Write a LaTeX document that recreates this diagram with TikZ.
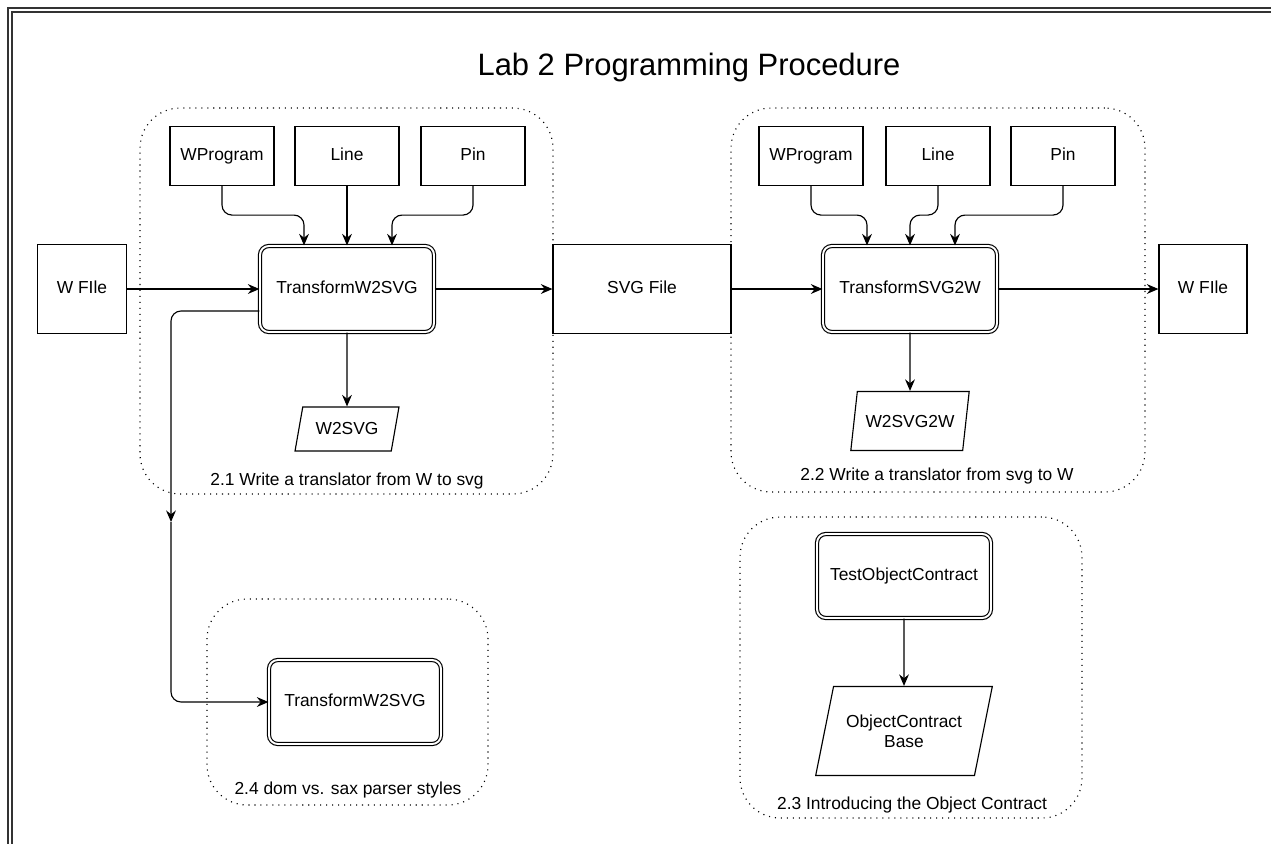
\documentclass[tikz,border=0pt]{standalone}
\usepackage{fontspec}
\setmainfont{Liberation Sans}
\usetikzlibrary{arrows.meta,shapes.geometric}

\begin{document}
\begin{tikzpicture}[x=0.02cm,y=-0.02cm,>={Stealth[length=6.6pt,width=5.6pt,inset=2.2pt]},
  line width=0.65pt,font=\fontsize{9.9}{11.5}\selectfont,
  box node/.style={rectangle,draw,minimum width=2.08cm,minimum height=1.18cm,inner sep=1pt,
    text height=7.2pt,text depth=2pt},
  file node/.style={rectangle,draw,minimum height=1.78cm,inner sep=1pt,
    text height=7.2pt,text depth=2pt},
  proc node/.style={rectangle,rounded corners=5pt,draw,double,double distance=1.1pt,
    minimum width=3.48cm,minimum height=1.72cm,inner sep=1pt,text height=7.2pt,text depth=2pt},
  data node/.style={trapezium,trapezium left angle=66,trapezium right angle=114,
    trapezium stretches=true,draw,inner sep=0pt,align=center},
  group node/.style={rectangle,rounded corners=0.8cm,draw,dash pattern=on 0.6pt off 2.8pt},
  arr/.style={->,rounded corners=0.2cm}]

  \useasboundingbox (0,0) rectangle (1271,843);
  % page frame
  \draw[double,double distance=1.3pt,line width=0.9pt,draw=black!80] (10,850) -- (10,10) -- (1280,10);

  \node[font=\fontsize{17.6}{20}\selectfont,anchor=base] (title) at (689,75) {Lab 2 Programming Procedure};

  % groups
  \node[group node,minimum width=8.26cm,minimum height=7.72cm] (g21) at (346.5,301) {};
  \node[group node,minimum width=8.28cm,minimum height=7.68cm] (g22) at (938,300) {};
  \node[group node,minimum width=6.84cm,minimum height=6.02cm] (g23) at (911,667.5) {};
  \node[group node,minimum width=5.62cm,minimum height=4.12cm] (g24) at (347.5,702) {};
  \node (l21) at (347,481) {2.1 Write a translator from W to svg};
  \node (l22) at (937,476) {2.2 Write a translator from svg to W};
  \node (l23) at (912,805) {2.3 Introducing the Object Contract};
  \node (l24) at (348,790) {2.4 dom vs. sax parser styles};

  % 2.1
  \node[box node] (wprog1) at (222,156) {WProgram};
  \node[box node] (line1) at (347,156) {Line};
  \node[box node] (pin1) at (473,156) {Pin};
  \node[proc node] (tw) at (347,289) {TransformW2SVG};
  \node[data node,minimum width=2.08cm,minimum height=0.88cm] (w2svg) at (347,429) {W2SVG};
  \node[file node,minimum width=1.78cm] (wfile1) at (82,289) {W FIle};
  \node[file node,minimum width=3.56cm] (svgfile) at (642,289) {SVG File};

  % 2.2
  \node[box node] (wprog2) at (811,156) {WProgram};
  \node[box node] (line2) at (938,156) {Line};
  \node[box node] (pin2) at (1063,156) {Pin};
  \node[proc node] (ts) at (910,289) {TransformSVG2W};
  \node[data node,minimum width=2.38cm,minimum height=1.18cm] (w2svg2w) at (910,421) {W2SVG2W};
  \node[file node,minimum width=1.76cm] (wfile2) at (1203,289) {W FIle};

  % 2.3
  \node[proc node,minimum width=3.48cm,minimum height=1.68cm] (toc) at (904,576) {TestObjectContract};
  \node[data node,minimum width=3.56cm,minimum height=1.78cm] (ocb) at (904,731) {ObjectContract\\Base};

  % 2.4
  \node[proc node,minimum width=3.44cm,minimum height=1.68cm] (tw2) at (355,702) {TransformW2SVG};

  \path[->]
    (wfile1) edge (tw)
    (tw) edge (svgfile)
         edge (w2svg)
    (line1) edge (tw)
    (svgfile) edge (ts)
    (ts) edge (wfile2)
         edge (w2svg2w)
    (toc) edge (ocb);

  \draw[arr] (wprog1.south) -- ++(0,29) -| ([xshift=-0.86cm]tw.north);
  \draw[arr] (pin1.south) -- ++(0,29) -| ([xshift=0.9cm]tw.north);
  \draw[arr] (wprog2.south) -- ++(0,29) -| ([xshift=-0.86cm]ts.north);
  \draw[arr] (line2.south) -- ++(0,29) -| (ts.north);
  \draw[arr] (pin2.south) -- ++(0,29) -| ([xshift=0.9cm]ts.north);

  \coordinate (drop) at (171,522);
  \draw[arr] ([yshift=-0.44cm]tw.west) -| (drop);
  \draw[arr] (drop) |- (tw2);

\end{tikzpicture}
\end{document}
